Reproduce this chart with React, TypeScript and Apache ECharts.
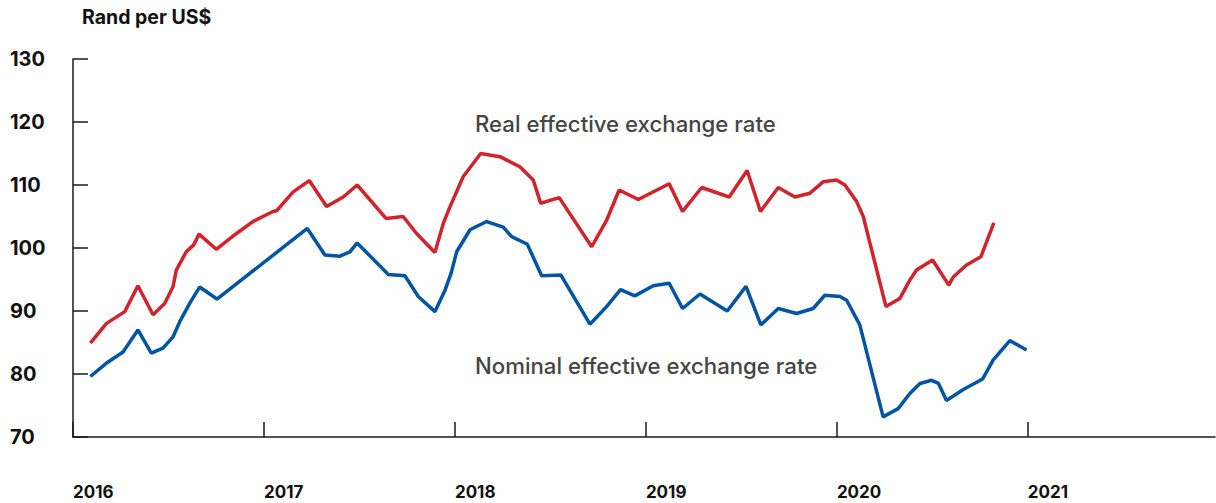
import React, { useEffect, useRef } from "react";
import * as echarts from "echarts";

// Time expressed as fractional year
const realDates = [
  2016.091, 2016.174, 2016.271, 2016.34, 2016.419, 2016.48, 2016.524, 2016.541, 2016.593, 2016.632,
  2016.66, 2016.75, 2016.838, 2016.942, 2017.047, 2017.066, 2017.153, 2017.237, 2017.328, 2017.415,
  2017.488, 2017.639, 2017.729, 2017.799, 2017.895, 2017.939, 2017.975, 2018.043, 2018.135, 2018.236,
  2018.34, 2018.41, 2018.449, 2018.546, 2018.716, 2018.794, 2018.86, 2018.96, 2019.122, 2019.192,
  2019.292, 2019.436, 2019.53, 2019.6, 2019.693, 2019.78, 2019.859, 2019.928, 2019.998, 2020.042,
  2020.103, 2020.138, 2020.257, 2020.33, 2020.382, 2020.417, 2020.501, 2020.586, 2020.609, 2020.679,
  2020.754, 2020.822,
];
const realValues = [
  84.9, 88.0, 89.9, 94.0, 89.4, 91.2, 93.9, 96.5, 99.4, 100.5,
  102.2, 99.8, 101.9, 104.2, 105.8, 105.9, 108.9, 110.7, 106.6, 108.1,
  110.0, 104.7, 105.0, 102.3, 99.3, 103.9, 106.6, 111.3, 115.0, 114.5,
  112.9, 110.8, 107.1, 108.0, 100.2, 104.4, 109.2, 107.7, 110.2, 105.8,
  109.6, 108.1, 112.3, 105.8, 109.6, 108.1, 108.7, 110.5, 110.8, 110.0,
  107.4, 105.0, 90.7, 92.0, 94.9, 96.5, 98.1, 94.1, 95.4, 97.3,
  98.6, 104.0,
];

const nominalDates = [
  2016.091, 2016.174, 2016.262, 2016.34, 2016.41, 2016.471, 2016.524, 2016.559, 2016.611, 2016.663,
  2016.754, 2017.227, 2017.319, 2017.398, 2017.45, 2017.488, 2017.651, 2017.738, 2017.808, 2017.895,
  2017.948, 2017.98, 2018.009, 2018.079, 2018.166, 2018.253, 2018.297, 2018.379, 2018.454, 2018.555,
  2018.707, 2018.794, 2018.867, 2018.942, 2019.038, 2019.122, 2019.192, 2019.283, 2019.426, 2019.524,
  2019.602, 2019.693, 2019.789, 2019.876, 2019.937, 2020.016, 2020.051, 2020.12, 2020.242, 2020.321,
  2020.382, 2020.435, 2020.496, 2020.532, 2020.574, 2020.66, 2020.763, 2020.818, 2020.906, 2020.993,
];
const nominalValues = [
  79.6, 81.7, 83.5, 87.0, 83.3, 84.1, 85.9, 88.3, 91.2, 93.8,
  91.9, 103.1, 98.9, 98.7, 99.4, 100.8, 95.8, 95.6, 92.3, 89.9,
  93.3, 96.0, 99.4, 102.9, 104.2, 103.3, 101.8, 100.6, 95.6, 95.7,
  87.9, 90.7, 93.4, 92.4, 94.0, 94.4, 90.4, 92.7, 90.0, 93.9,
  87.8, 90.4, 89.6, 90.4, 92.5, 92.3, 91.7, 87.8, 73.2, 74.5,
  76.9, 78.5, 79.0, 78.5, 75.8, 77.5, 79.2, 82.2, 85.3, 83.8,
];

const yearTicks = [2016, 2017, 2018, 2019, 2020, 2021];
const unitLabel = "Rand per US$";
const realLabel = "Real effective exchange rate";
const nominalLabel = "Nominal effective exchange rate";

const FONT = "Inter, 'Open Sans', sans-serif";

export default function App() {
  const ref = useRef<HTMLDivElement>(null);

  useEffect(() => {
    document.body.style.margin = "0";
    if (!ref.current) return;
    const chart = echarts.init(ref.current, null, { renderer: "svg" });
    const real = realDates.map((d, i) => [d, realValues[i]]);
    const nominal = nominalDates.map((d, i) => [d, nominalValues[i]]);
    chart.setOption({
      animation: false,
      backgroundColor: "#ffffff",
      textStyle: { fontFamily: FONT },
      grid: { left: 73, right: 1, top: 59, bottom: 66, containLabel: false },
      xAxis: {
        type: "value",
        min: 2016,
        max: 2021.98,
        axisLine: { show: true, onZero: false, lineStyle: { color: "#1a1a1a", width: 1.5 } },
        axisTick: {
          show: true,
          inside: true,
          length: 15,
          customValues: yearTicks,
          lineStyle: { color: "#1a1a1a", width: 1.5 },
        },
        splitLine: { show: false },
        axisLabel: {
          customValues: yearTicks,
          margin: 46,
          align: "left",
          fontSize: 17,
          fontWeight: 700,
          color: "#111",
          fontFamily: FONT,
          formatter: (v: number) => String(v),
        },
      },
      yAxis: {
        type: "value",
        min: 70,
        max: 130,
        interval: 10,
        axisLine: { show: true, lineStyle: { color: "#1a1a1a", width: 1.5 } },
        axisTick: { show: true, inside: true, length: 15, lineStyle: { color: "#1a1a1a", width: 1.5 } },
        splitLine: { show: false },
        axisLabel: {
          margin: 63,
          align: "left",
          fontSize: 20,
          fontWeight: 700,
          color: "#111",
          fontFamily: FONT,
        },
      },
      graphic: [
        {
          type: "text",
          left: 82,
          top: 7,
          style: { text: unitLabel, fill: "#111", font: `700 19.5px ${FONT}` },
        },
        {
          type: "text",
          left: 475,
          top: 112,
          style: { text: realLabel, fill: "#444", font: `500 22.2px ${FONT}` },
        },
        {
          type: "text",
          left: 475,
          top: 354,
          style: { text: nominalLabel, fill: "#444", font: `500 22.2px ${FONT}` },
        },
      ],
      series: [
        {
          type: "line",
          name: realLabel,
          data: real,
          showSymbol: false,
          smooth: false,
          lineStyle: { color: "#d2232a", width: 3.5 },
          itemStyle: { color: "#d2232a" },
        },
        {
          type: "line",
          name: nominalLabel,
          data: nominal,
          showSymbol: false,
          smooth: false,
          lineStyle: { color: "#0054a4", width: 3.5 },
          itemStyle: { color: "#0054a4" },
        },
      ],
    });
    return () => chart.dispose();
  }, []);

  return <div ref={ref} style={{ width: 1216, height: 503 }} />;
}
